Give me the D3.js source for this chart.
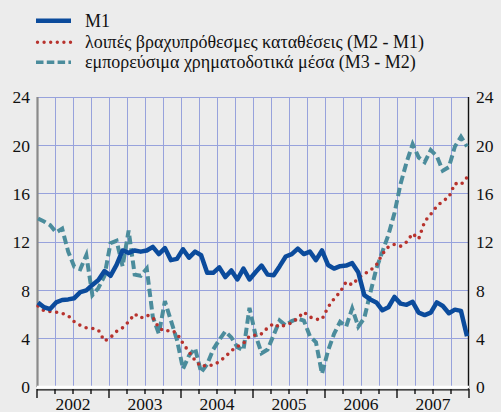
<!DOCTYPE html>
<html><head><meta charset="utf-8">
<script src="https://cdn.jsdelivr.net/npm/d3@7"></script>
<style>
html,body{margin:0;padding:0;background:#ececec;}
svg{display:block;}
svg text{font-family:"Liberation Serif","DejaVu Serif","Times New Roman",serif;fill:#111;}
</style></head>
<body>
<svg id="c" width="501" height="412"></svg>
<script>
// monthly data, Jan 2002 - Dec 2007 (annual growth rates, %)
const m1 = [7.0,6.6,6.45,7.0,7.2,7.25,7.35,7.85,8.0,8.45,
  8.85,9.6,9.2,10.1,11.3,11.1,11.3,11.2,11.3,11.6,
  11.0,11.5,10.5,10.6,11.4,10.7,11.2,10.9,9.45,9.45,
  9.9,9.1,9.65,8.9,9.8,8.9,9.5,10.05,9.3,9.25,
  10.0,10.8,11.0,11.45,11.0,11.2,10.5,11.3,10.1,9.8,
  10.0,10.05,10.25,9.5,7.6,7.25,7.0,6.35,6.6,7.45,
  6.9,6.8,7.05,6.15,5.95,6.15,7.0,6.7,6.1,6.4,
  6.3,4.2];
const m2m1 = [6.7,6.3,6.25,6.2,6.1,5.9,5.4,5.1,4.9,4.85,
  4.7,3.8,4.1,4.6,4.9,5.4,6.05,5.7,5.95,5.75,
  4.9,4.6,4.7,4.45,3.6,2.9,2.2,1.7,1.8,1.8,
  2.1,2.5,3.0,3.35,3.6,4.2,4.3,4.4,4.9,5.25,
  4.95,5.15,5.3,5.7,6.2,5.8,5.6,5.6,6.6,7.3,
  7.86,8.7,8.45,9.0,9.35,9.65,10.1,11.0,11.6,11.8,
  11.65,12.0,12.7,12.25,13.7,14.3,14.95,15.4,15.7,16.85,
  16.75,17.35];
const m3m2 = [13.95,13.7,13.4,12.8,13.1,11.2,9.95,9.75,10.9,7.6,
  8.2,9.2,11.9,12.1,10.0,12.95,9.3,9.2,9.8,5.8,
  4.4,7.1,5.5,3.9,1.5,2.6,3.2,1.2,1.9,3.1,
  3.9,4.6,4.1,3.3,3.05,6.55,4.3,2.8,3.1,4.3,
  5.5,5.1,5.45,5.65,5.5,4.2,3.7,1.1,3.0,4.4,
  5.4,5.0,6.5,5.0,5.7,7.8,9.8,11.2,12.6,14.4,
  16.8,18.6,20.1,19.0,18.6,19.6,19.1,17.9,18.2,19.9,
  20.7,19.9];
const years = [2002,2003,2004,2005,2006,2007];
const yTicks = [0,4,8,12,16,20,24];
const seriesNames = ["M1","λοιπές βραχυπρόθεσμες καταθέσεις (M2 - M1)","εμπορεύσιμα χρηματοδοτικά μέσα (M3 - M2)"];

const FONT = "'Liberation Serif','DejaVu Serif',serif";
const svg = d3.select("#c");
const L = 37, R = 469, T = 97, B = 387;
const y = d3.scaleLinear().domain([0,24]).range([B,T]);
const xt = d3.scaleLinear().domain([2002,2008]).range([L,R]);
const xi = d3.scaleLinear().domain([0, m1.length-1]).range([38,467]);

const grid = "#97a2dc";
const quarters = d3.range(2002, 2008.001, 0.25);
svg.append("g").selectAll("line").data(quarters.filter(q=>q>2002 && q<2008)).join("line")
  .attr("x1",d=>xt(d)).attr("x2",d=>xt(d)).attr("y1",T).attr("y2",B)
  .attr("stroke",grid).attr("stroke-width",1).attr("shape-rendering","crispEdges");
svg.append("g").selectAll("line").data(yTicks.filter(v=>v>0)).join("line")
  .attr("x1",L).attr("x2",R).attr("y1",d=>y(d)).attr("y2",d=>y(d))
  .attr("stroke",grid).attr("stroke-width",1).attr("shape-rendering","crispEdges");

svg.append("line").attr("x1",L+0.5).attr("x2",L+0.5).attr("y1",T).attr("y2",B)
  .attr("stroke","#8a8a8a").attr("stroke-width",2.2);
svg.append("line").attr("x1",R-0.5).attr("x2",R-0.5).attr("y1",T).attr("y2",B+2)
  .attr("stroke","#111").attr("stroke-width",1.4);
svg.append("line").attr("x1",L).attr("x2",R).attr("y1",B).attr("y2",B)
  .attr("stroke","#fff").attr("stroke-width",2.5);
svg.append("line").attr("x1",L).attr("x2",R).attr("y1",B+2.8).attr("y2",B+2.8)
  .attr("stroke","#111").attr("stroke-width",1.2);
svg.append("g").selectAll("line").data(quarters).join("line")
  .attr("x1",d=>xt(d)).attr("x2",d=>xt(d)).attr("y1",B+2)
  .attr("y2",d=> (Math.abs(d-Math.round(d))<1e-6) ? B+11 : B+7)
  .attr("stroke","#111").attr("stroke-width",1.4);

svg.append("g").selectAll("text").data(yTicks).join("text")
  .attr("x",30).attr("y",d=>y(d)).attr("dy","0.36em").attr("text-anchor","end")
  .attr("font-family",FONT).attr("font-size",17.5).text(d=>d);
svg.append("g").selectAll("text").data(yTicks).join("text")
  .attr("x",476).attr("y",d=>y(d)).attr("dy","0.36em").attr("text-anchor","start")
  .attr("font-family",FONT).attr("font-size",17.5).text(d=>d);
svg.append("g").selectAll("text").data(years).join("text")
  .attr("x",d=>xt(d+0.5)).attr("y",409.5).attr("text-anchor","middle")
  .attr("font-family",FONT).attr("font-size",17.5).text(d=>d);

const colM1 = "#0b4b9c", colRed = "#b7322d", colTeal = "#4b8c9c";
const line = d3.line().x((d,i)=>xi(i)).y(d=>y(d));

svg.append("path").attr("d",line(m3m2)).attr("fill","none")
  .attr("stroke",colTeal).attr("stroke-width",4).attr("stroke-dasharray","8.5,4");
svg.append("path").attr("d",line(m2m1)).attr("fill","none")
  .attr("stroke",colRed).attr("stroke-width",3.6).attr("stroke-linecap","round")
  .attr("stroke-dasharray","0,6.8");
svg.append("path").attr("d",line(m1)).attr("fill","none")
  .attr("stroke",colM1).attr("stroke-width",4.5).attr("stroke-linejoin","round");

const leg = svg.append("g");
const rows = [
  {name:seriesNames[0], y:20.7, stroke:colM1, w:4.5, dash:null, cap:"butt"},
  {name:seriesNames[1], y:42.3, stroke:colRed, w:3.4, dash:"0,6.6", cap:"round"},
  {name:seriesNames[2], y:62.3, stroke:colTeal, w:3.4, dash:"7.5,3.3", cap:"butt"}
];
rows.forEach(r=>{
  leg.append("line").attr("x1",r.cap==="round"?37.5:36).attr("x2",71).attr("y1",r.y).attr("y2",r.y)
    .attr("stroke",r.stroke).attr("stroke-width",r.w).attr("stroke-dasharray",r.dash)
    .attr("stroke-linecap",r.cap);
  leg.append("text").attr("x",85).attr("y",r.y+5.8).attr("font-family",FONT)
    .attr("font-size",18).text(r.name);
});
</script>
</body></html>
